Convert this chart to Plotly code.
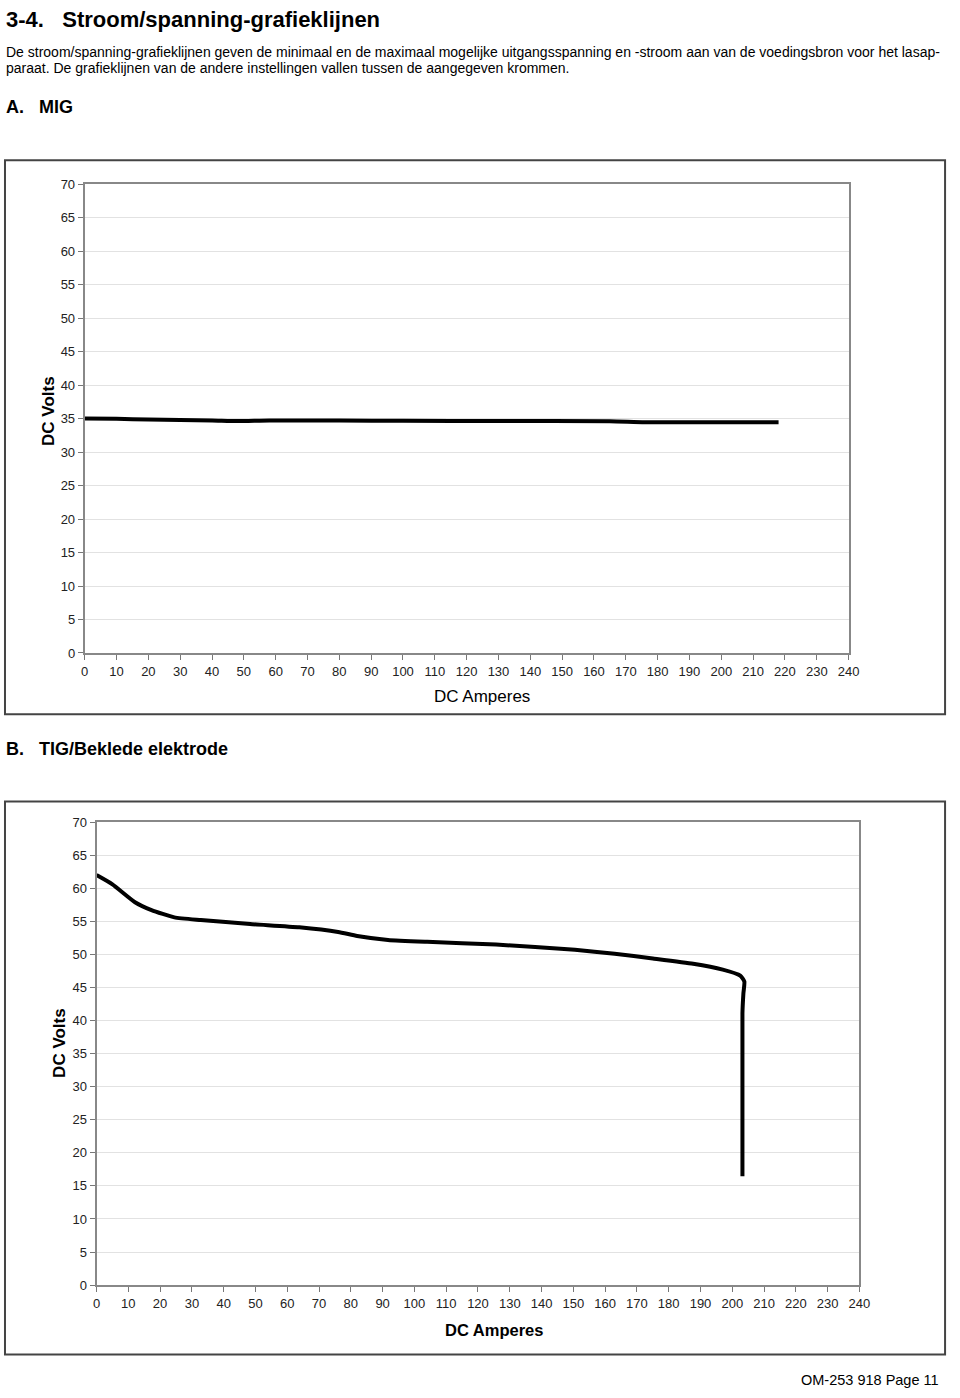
import plotly.graph_objects as go

W, H = 960, 1398

# ---- Data ----
mig_amps = [0, 10, 20, 30, 40, 48, 58, 80, 100, 130, 165, 176, 200, 218]
mig_volts = [35.0, 34.95, 34.85, 34.78, 34.72, 34.62, 34.72, 34.7, 34.66, 34.63, 34.6, 34.45, 34.45, 34.45]

tig_amps = [0, 5, 12.1, 17.3, 24.5, 32.8, 48.3, 63.8, 76, 82, 91.7, 104, 125.7, 150.5, 163, 175,
            187.7, 197, 202.5, 203.8, 203.5, 203.2, 203.2]
tig_volts = [62.0, 60.6, 57.9, 56.7, 55.6, 55.2, 54.6, 54.1, 53.4, 52.8, 52.2, 51.9, 51.5, 50.7, 50.1, 49.4,
             48.6, 47.7, 46.8, 45.9, 44.1, 41.1, 16.45]

x_ticks = list(range(0, 241, 10))
y_ticks = list(range(0, 71, 5))

FONT = "Liberation Sans, Arial, sans-serif"


def px(x):
    return x / W


def py(y):
    return 1 - y / H


fig = go.Figure()
fig.add_trace(go.Scatter(x=mig_amps, y=mig_volts, mode="lines",
                         line=dict(color="black", width=4, shape="spline", smoothing=0.6),
                         xaxis="x", yaxis="y", showlegend=False, hoverinfo="skip"))
fig.add_trace(go.Scatter(x=tig_amps, y=tig_volts, mode="lines",
                         line=dict(color="black", width=4, shape="spline", smoothing=0.5),
                         xaxis="x2", yaxis="y2", showlegend=False, hoverinfo="skip"))

def xaxis(dom, anchor):
    return dict(domain=dom, anchor=anchor, range=[0, 240], tickvals=x_ticks,
                ticktext=[str(v) for v in x_ticks], ticks="outside", ticklen=5,
                tickcolor="#777", showline=True, linecolor="#888", linewidth=2,
                mirror=True, showgrid=False, zeroline=False,
                tickfont=dict(family=FONT, size=13, color="#222"), fixedrange=True)

def yaxis(dom, anchor):
    return dict(domain=dom, anchor=anchor, range=[0, 70], tickvals=y_ticks,
                ticks="outside", ticklen=5, tickcolor="#777", showline=True,
                linecolor="#888", linewidth=2, mirror=True, showgrid=True,
                gridcolor="#e2e2e2", gridwidth=1, zeroline=False,
                tickfont=dict(family=FONT, size=13, color="#222"), fixedrange=True)

annotations = [
    dict(text="<b>3-4.   Stroom/spanning-grafieklijnen</b>", x=px(0), y=py(13), xanchor="left",
         yanchor="middle", font=dict(family=FONT, size=22, color="black")),
    dict(text="De stroom/spanning-grafieklijnen geven de minimaal en de maximaal mogelijke uitgangsspanning en -stroom aan van de voedingsbron voor het lasap-",
         x=px(0), y=py(45), xanchor="left", yanchor="middle",
         font=dict(family=FONT, size=14, color="black")),
    dict(text="paraat. De grafieklijnen van de andere instellingen vallen tussen de aangegeven krommen.",
         x=px(0), y=py(62), xanchor="left", yanchor="middle",
         font=dict(family=FONT, size=14, color="black")),
    dict(text="<b>A.   MIG</b>", x=px(0), y=py(101), xanchor="left", yanchor="middle",
         font=dict(family=FONT, size=18, color="black")),
    dict(text="<b>B.   TIG/Beklede elektrode</b>", x=px(0), y=py(750), xanchor="left", yanchor="middle",
         font=dict(family=FONT, size=18, color="black")),
    dict(text="DC Amperes", x=px(486), y=py(697), xanchor="center", yanchor="middle",
         font=dict(family=FONT, size=17, color="black")),
    dict(text="<b>DC Volts</b>", x=px(45), y=py(408), xanchor="center", yanchor="middle",
         textangle=-90, font=dict(family=FONT, size=17, color="black")),
    dict(text="<b>DC Amperes</b>", x=px(498), y=py(1337), xanchor="center", yanchor="middle",
         font=dict(family=FONT, size=16.5, color="black")),
    dict(text="<b>DC Volts</b>", x=px(57), y=py(1047), xanchor="center", yanchor="middle",
         textangle=-90, font=dict(family=FONT, size=17, color="black")),
    dict(text="OM-253 918 Page 11", x=px(952), y=py(1388), xanchor="right", yanchor="middle",
         font=dict(family=FONT, size=14.5, color="black")),
]
for a in annotations:
    a.update(xref="paper", yref="paper", showarrow=False)

shapes = [
    dict(type="rect", xref="paper", yref="paper", x0=px(1), x1=px(956), y0=py(715), y1=py(155),
         line=dict(color="#444", width=2), fillcolor="rgba(0,0,0,0)"),
    dict(type="rect", xref="paper", yref="paper", x0=px(1), x1=px(956), y0=py(1362), y1=py(803),
         line=dict(color="#444", width=2), fillcolor="rgba(0,0,0,0)"),
]

fig.update_layout(
    width=W, height=H, margin=dict(l=0, r=0, t=0, b=0),
    paper_bgcolor="white", plot_bgcolor="white",
    xaxis=xaxis([px(82), px(858)], "y"),
    yaxis=yaxis([py(653), py(179)], "x"),
    xaxis2=xaxis([px(94), px(869)], "y2"),
    yaxis2=yaxis([py(1292), py(824)], "x2"),
    annotations=annotations, shapes=shapes, showlegend=False,
)

fig.write_html("out.html", config={"displayModeBar": False})
